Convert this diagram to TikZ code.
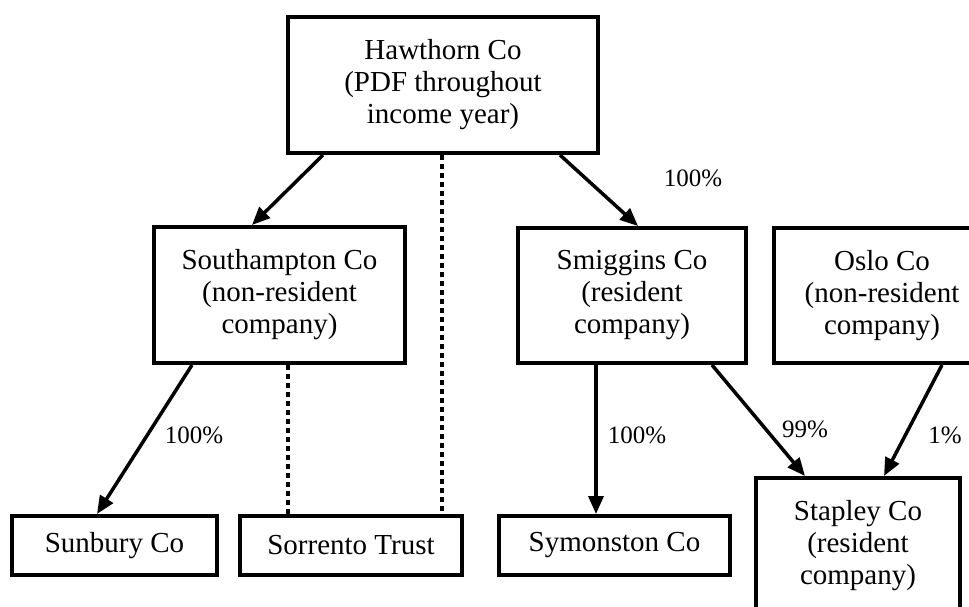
\documentclass[tikz,border=0pt]{standalone}
\usepackage{fontspec}
\setmainfont{Liberation Serif}
\usetikzlibrary{arrows.meta,calc}
\tikzset{
  box/.style={draw, line width=4pt, align=center, inner sep=0pt,
    font=\fontsize{29}{32}\selectfont},
  arr/.style={line width=3.5pt, -{Triangle[length=18pt,width=15pt]}},
  dotline/.style={line width=4pt, dash pattern=on 5pt off 4pt},
  pct/.style={font=\fontsize{25}{28}\selectfont, inner sep=0pt}
}
\begin{document}
\begin{tikzpicture}[x=1pt,y=-1pt]
\clip (0,0) rectangle (969,607);
\fill[white] (0,0) rectangle (969,607);
% boxes
\node[box, minimum width=310pt, minimum height=136pt] (haw) at (443,85)
  {Hawthorn Co\\(PDF throughout\\income year)};
\node[box, minimum width=251pt, minimum height=136pt] (south) at (279.5,295)
  {Southampton Co\\(non-resident\\company)};
\node[box, minimum width=228pt, minimum height=135pt] (smig) at (632,295.5)
  {Smiggins Co\\(resident\\company)};
\node[box, minimum width=216pt, minimum height=135pt] (oslo) at (882,295.5)
  {Oslo Co\\(non-resident\\company)};
\node[box, minimum width=204pt, minimum height=135pt] (stap) at (858,545.5)
  {Stapley Co\\(resident\\company)};
\node[box, minimum width=205pt, minimum height=59pt] (sun) at (114.5,545.5) {Sunbury Co};
\node[box, minimum width=222pt, minimum height=59pt] (sor) at (351,545.5) {Sorrento Trust};
\node[box, minimum width=231pt, minimum height=59pt] (sym) at (614.5,545.5) {Symonston Co};
% connectors
\draw[arr] ([xshift=-120pt]haw.south) -- ([xshift=-27.5pt]south.north);
\draw[arr] ([xshift=117pt]haw.south) -- ([xshift=6pt]smig.north);
\draw[dotline] ([xshift=-1pt]haw.south) -- ([xshift=-1pt]haw.south |- sor.north);
\draw[dotline] ([xshift=8.5pt]south.south) -- ([xshift=8.5pt]south.south |- sor.north);
\draw[arr] ([xshift=-87.5pt]south.south) -- ([xshift=-17.5pt]sun.north);
\draw[arr] ([xshift=-36pt]smig.south) -- ([xshift=-36pt]smig.south |- sym.north);
\draw[arr] ([xshift=80pt]smig.south) -- ([xshift=-53pt]stap.north);
\draw[arr] ([xshift=60pt]oslo.south) -- ([xshift=26pt]stap.north);
% labels
\node[pct] (l1) at (693,178) {100\%};
\node[pct] (l2) at (194,435) {100\%};
\node[pct] (l3) at (637,435) {100\%};
\node[pct] (l4) at (805,429) {99\%};
\node[pct] (l5) at (945,435) {1\%};
\end{tikzpicture}
\end{document}
